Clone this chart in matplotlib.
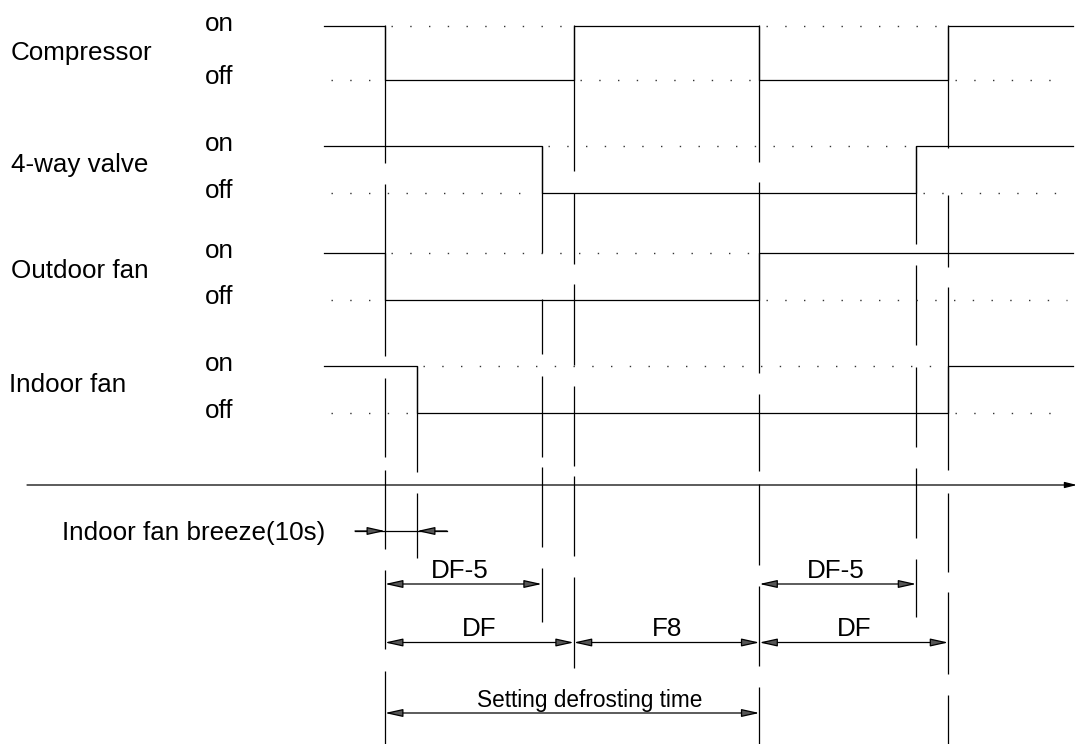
import matplotlib
matplotlib.use('Agg')
import matplotlib.pyplot as plt

plt.rcParams['font.family'] = ['Liberation Sans', 'DejaVu Sans']
plt.rcParams['lines.scale_dashes'] = False

# ---------------- data (times in s, relative to defrost start) ----------------
signal_names = ['Compressor', '4-way valve', 'Outdoor fan', 'Indoor fan']
t_begin, t_end = -19, 215

compressor_times = [t_begin, 0, 59, 117, 176, t_end]
compressor_states = [1, 0, 1, 0, 1]
valve_times = [t_begin, 49, 166, t_end]
valve_states = [1, 0, 1]
outdoor_times = [t_begin, 0, 117, t_end]
outdoor_states = [1, 0, 1]
indoor_times = [t_begin, 10, 176, t_end]
indoor_states = [1, 0, 1]

guide_times = [0, 10, 49, 59, 117, 166, 176]

interval_labels = ['DF-5', 'DF', 'F8', 'DF-5', 'DF', 'Setting defrosting time']
interval_start = [0, 0, 59, 117, 117, 0]
interval_end = [49, 59, 117, 166, 176, 117]

breeze_start, breeze_end = 0, 10

# ---------------- layout ----------------
PX = 3.2           # pixels per second
X0 = 385           # pixel of t=0
def px(p):
    return (p - X0) / PX

on_y = [26, 146, 253, 366]
off_y = [79.5, 193, 299.5, 413]
label_base = [60, 172, 278.5, 392]
label_x = [11, 11, 11, 9]
guide_top = [25, 366, 146, 25, 25, 146, 25]
guide_bottom = [744, 558, 622, 668, 744, 617, 744]
guide_gaps = [
    [(163, 184), (356, 378), (457, 470), (549, 570), (649, 671)],
    [(472, 493)],
    [(253, 299), (354, 376), (457, 467), (547, 568)],
    [(171, 193), (264, 284), (365, 386), (466, 476), (556, 577)],
    [(162, 182), (373, 394), (471, 484), (565, 586), (666, 687)],
    [(244, 265), (345, 367), (447, 468), (538, 559)],
    [(148, 195), (267, 287), (470, 493), (572, 592), (674, 695)],
]
interval_y = [584, 642.5, 642.5, 584, 642.5, 713]
interval_fs = [18.7, 18.7, 18.7, 18.7, 18.7, 16.3]
interval_dx = [-1.2, 0, 0, -0.6, 0, 5.6]
axis_y = 485
breeze_y = 531

fig = plt.figure(figsize=(10.77, 7.44), dpi=100)
ax = fig.add_axes([0, 0, 1, 1])
ax.set_xlim(px(0), px(1077))
ax.set_ylim(744, 0)
ax.axis('off')

LW = 0.9
FS = 18.7
HEAD_FC = '#555555'

# guide (dashed) vertical lines
for t, top, bot, gaps in zip(guide_times, guide_top, guide_bottom, guide_gaps):
    ys = [top]
    for g0, g1 in gaps:
        ys += [g0, g1]
    ys.append(bot)
    for y0, y1 in zip(ys[0::2], ys[1::2]):
        ax.plot([t, t], [y0, y1], color='black', lw=LW, solid_capstyle='butt')

series = [(compressor_times, compressor_states), (valve_times, valve_states),
          (outdoor_times, outdoor_states), (indoor_times, indoor_states)]

for i, (times, states) in enumerate(series):
    levels = [on_y[i] if s else off_y[i] for s in states]
    ax.step(times, levels + [levels[-1]], where='post', color='black', lw=LW)
    for a, b, s in zip(times[:-1], times[1:], states):
        lvl = off_y[i] if s else on_y[i]
        ax.plot([a + 2, b - 2], [lvl, lvl], color='#333333', lw=1.0,
                linestyle=(0, (1, 12.5)))
    ax.text(px(label_x[i]), label_base[i], signal_names[i],
            fontsize=FS, va='baseline', ha='left')
    ax.text(px(205), on_y[i] + 5, 'on', fontsize=FS, va='baseline', ha='left')
    ax.text(px(205), off_y[i] + 5, 'off', fontsize=FS, va='baseline', ha='left')

# time axis
ax.annotate('', xy=(px(1077), axis_y), xytext=(px(27), axis_y),
            arrowprops=dict(arrowstyle='-|>,head_length=0.6,head_width=0.15',
                            fc='black', ec='black', lw=LW, shrinkA=0, shrinkB=0,
                            mutation_scale=12))

head = '-|>,head_length=0.9,head_width=0.2'
# indoor fan breeze arrows
ax.plot([px(355), px(447)], [breeze_y, breeze_y], color='black', lw=LW)
ax.annotate('', xy=(breeze_start, breeze_y), xytext=(px(355), breeze_y),
            arrowprops=dict(arrowstyle=head, fc=HEAD_FC, ec='black', lw=LW,
                            shrinkA=0, shrinkB=0, mutation_scale=12))
ax.annotate('', xy=(breeze_end, breeze_y), xytext=(px(447), breeze_y),
            arrowprops=dict(arrowstyle=head, fc=HEAD_FC, ec='black', lw=LW,
                            shrinkA=0, shrinkB=0, mutation_scale=12))
ax.text(px(62), breeze_y + 9, 'Indoor fan breeze(10s)', fontsize=FS,
        va='baseline', ha='left')

# interval dimension arrows
for lab, a, b, y, fs, dx in zip(interval_labels, interval_start, interval_end,
                                interval_y, interval_fs, interval_dx):
    ax.annotate('', xy=(b, y), xytext=(a, y),
                arrowprops=dict(arrowstyle='<|-|>,head_length=0.9,head_width=0.2',
                                fc=HEAD_FC, ec='black', lw=LW, shrinkA=0,
                                shrinkB=0, mutation_scale=12))
    ax.text((a + b) / 2 + dx, y - 6, lab, fontsize=fs, va='baseline',
            ha='center')

fig.savefig('out.png', dpi=100)
